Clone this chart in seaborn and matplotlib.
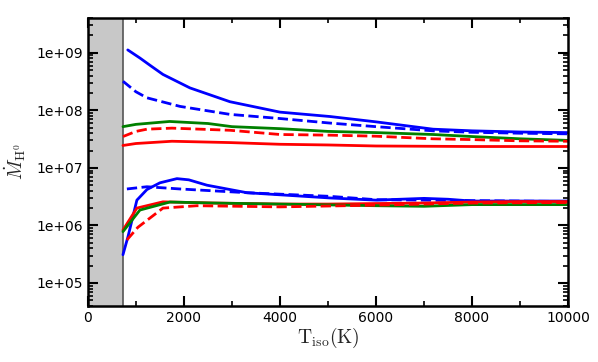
import numpy as np
import pandas as pd
import matplotlib
matplotlib.use("Agg")
import matplotlib.pyplot as plt
import matplotlib.ticker as mticker
import seaborn as sns

# upper group (T in K, Mdot)
t_blue_hi = [830, 1083, 1300, 1563, 2125, 2958, 4000, 5042, 6000, 7188, 8000, 9000, 10000]
m_blue_hi = [1.12e9, 8.1e8, 6.0e8, 4.2e8, 2.45e8, 1.41e8, 9.3e7, 7.8e7, 6.3e7, 4.7e7, 4.4e7, 4.2e7, 4.1e7]
t_blue_hi_d = [730, 1000, 1229, 1917, 2958, 4000, 5042, 6000, 7188, 8000, 9000, 10000]
m_blue_hi_d = [3.2e8, 2.1e8, 1.65e8, 1.17e8, 8.5e7, 7.2e7, 6.0e7, 5.2e7, 4.4e7, 4.15e7, 4.0e7, 3.9e7]
t_green_hi = [730, 1000, 1700, 2500, 3000, 4000, 5000, 6000, 7188, 8000, 9000, 10000]
m_green_hi = [5.2e7, 5.7e7, 6.4e7, 5.9e7, 5.2e7, 4.8e7, 4.3e7, 4.1e7, 3.8e7, 3.5e7, 3.2e7, 3.0e7]
t_red_hi_d = [730, 1000, 1229, 1750, 2958, 4000, 5042, 6000, 7188, 8000, 9000, 10000]
m_red_hi_d = [3.5e7, 4.3e7, 4.7e7, 4.9e7, 4.5e7, 3.8e7, 3.7e7, 3.55e7, 3.2e7, 3.1e7, 2.95e7, 2.9e7]
t_red_hi = [730, 1000, 1750, 2958, 4000, 5000, 6000, 8000, 10000]
m_red_hi = [2.45e7, 2.65e7, 2.9e7, 2.75e7, 2.57e7, 2.5e7, 2.4e7, 2.35e7, 2.35e7]

# lower group
t_blue_lo = [730, 833, 1020, 1229, 1500, 1854, 2100, 2479, 3313, 5042, 6000, 7000, 7500, 8000, 9000, 10000]
m_blue_lo = [3.1e5, 6.3e5, 2.75e6, 4.2e6, 5.5e6, 6.5e6, 6.2e6, 5.0e6, 3.7e6, 3.0e6, 2.75e6, 2.95e6, 2.85e6, 2.65e6, 2.65e6, 2.65e6]
t_blue_lo_d = [812, 1229, 1917, 3313, 5042, 6000, 7000, 8000, 10000]
m_blue_lo_d = [4.3e6, 4.7e6, 4.3e6, 3.7e6, 3.2e6, 2.8e6, 2.75e6, 2.7e6, 2.6e6]
t_red_lo = [730, 1020, 1563, 2600, 4000, 5000, 6000, 7000, 8000, 9000, 10000]
m_red_lo = [8.3e5, 2.0e6, 2.57e6, 2.45e6, 2.35e6, 2.35e6, 2.4e6, 2.45e6, 2.55e6, 2.6e6, 2.6e6]
t_green_lo = [730, 1083, 1708, 2600, 4000, 6000, 7000, 8000, 10000]
m_green_lo = [7.8e5, 1.85e6, 2.55e6, 2.45e6, 2.35e6, 2.2e6, 2.15e6, 2.3e6, 2.3e6]
t_red_lo_d = [812, 1042, 1563, 2270, 4000, 6000, 8000, 10000]
m_red_lo_d = [5.6e5, 9.3e5, 2.0e6, 2.2e6, 2.1e6, 2.25e6, 2.45e6, 2.5e6]

T_cut = 730

series = [
    (t_blue_hi, m_blue_hi, "blue", False),
    (t_blue_hi_d, m_blue_hi_d, "blue", True),
    (t_green_hi, m_green_hi, "green", False),
    (t_red_hi_d, m_red_hi_d, "red", True),
    (t_red_hi, m_red_hi, "red", False),
    (t_blue_lo, m_blue_lo, "blue", False),
    (t_blue_lo_d, m_blue_lo_d, "blue", True),
    (t_red_lo, m_red_lo, "red", False),
    (t_green_lo, m_green_lo, "green", False),
    (t_red_lo_d, m_red_lo_d, "red", True),
]

sns.set_style("ticks")
plt.rcParams["mathtext.fontset"] = "cm"

fig = plt.figure(figsize=(5.98, 3.62), dpi=100)
ax = fig.add_axes([0.147, 0.155, 0.803, 0.795])

ax.axvspan(0, T_cut, color="#c8c8c8", zorder=0, lw=0)
ax.axvline(T_cut, color="#555555", lw=1.2, zorder=1)

for t, m, c, dashed in series:
    df = pd.DataFrame({"T": t, "M": m})
    if dashed:
        sns.lineplot(data=df, x="T", y="M", color=c, lw=2, ax=ax,
                     linestyle="--", dashes=(2.2, 1.6))
    else:
        sns.lineplot(data=df, x="T", y="M", color=c, lw=2, ax=ax)

ax.set_yscale("log")
ax.set_xlim(0, 10000)
ax.set_ylim(4e4, 4e9)
ax.xaxis.set_major_locator(mticker.MultipleLocator(2000))
ax.xaxis.set_minor_locator(mticker.MultipleLocator(1000))
ax.yaxis.set_major_locator(mticker.LogLocator(base=10, numticks=10))
ax.yaxis.set_minor_locator(mticker.LogLocator(base=10, subs=np.arange(2, 10), numticks=20))
ax.yaxis.set_major_formatter(mticker.FuncFormatter(lambda v, p: "%.0e" % v))
ax.yaxis.set_minor_formatter(mticker.NullFormatter())

ax.tick_params(which="both", direction="in", top=True, right=True, labelsize=10, colors="black")
ax.tick_params(which="major", length=7, width=1.5)
ax.tick_params(which="minor", length=3.5, width=1.2)
for s in ax.spines.values():
    s.set_linewidth(1.8)
    s.set_color("black")

ax.set_xlabel(r"$\mathrm{T_{iso}(K)}$", fontsize=14, labelpad=1)
ax.set_ylabel(r"$\dot{M}_{\rm H^0}$", fontsize=14, labelpad=6)

fig.savefig("out.png", dpi=100)
